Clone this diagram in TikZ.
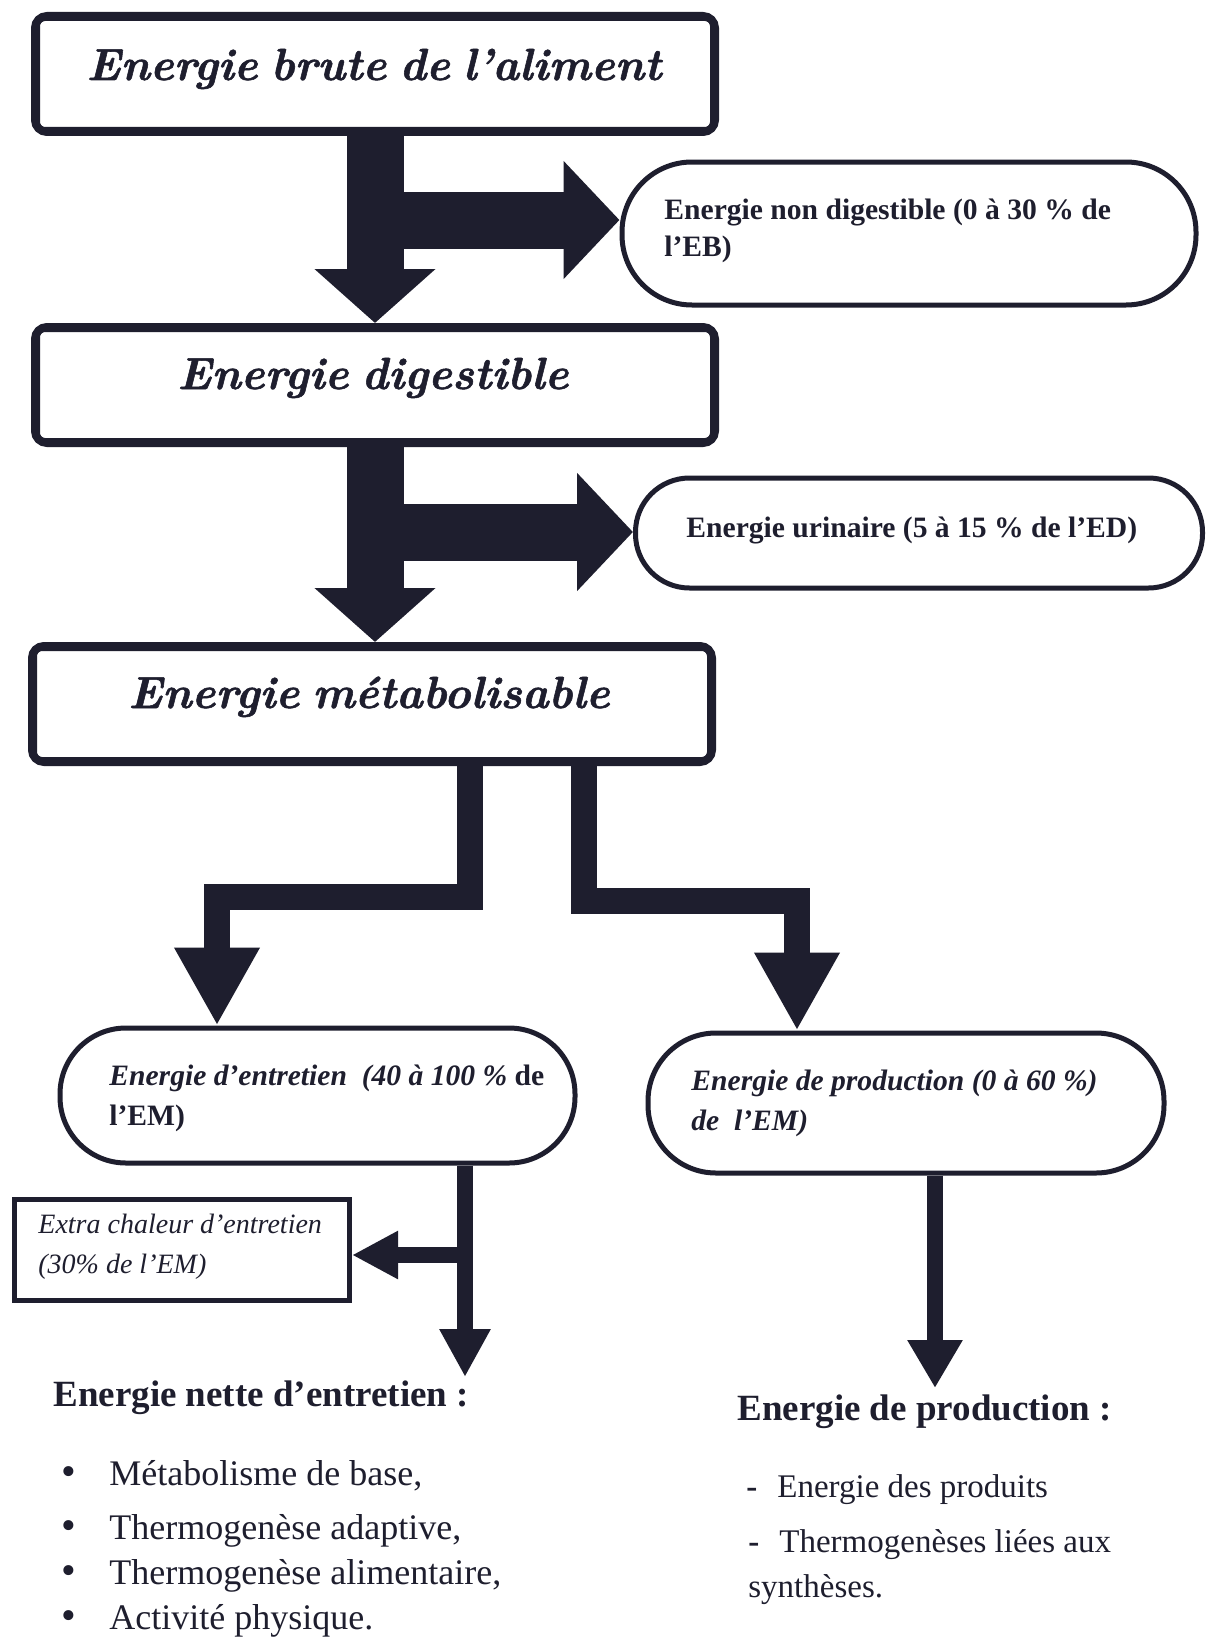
\documentclass[tikz,border=0pt]{standalone}
\usepackage{fontspec}
\newfontfamily\gara{Liberation Serif}
\newfontfamily\hfont{Latin Modern Roman}[WordSpace=0.7,BoldItalicFeatures={FakeBold=1.2}]
\usetikzlibrary{arrows.meta,calc}
\definecolor{ink}{RGB}{30,30,46}
\begin{document}
\begin{tikzpicture}[x=0.5pt,y=-0.5pt,
 hbox/.style={draw=ink,line width=4pt,rounded corners=6pt,fill=white,minimum width=340pt,minimum height=58pt,inner sep=0pt},
 htext/.style={text=ink,inner sep=0pt,anchor=base,font=\hfont\fontsize{22.5}{26}\selectfont\bfseries\itshape},
 stad/.style={draw=ink,line width=2.5pt,fill=white,inner sep=0pt},
 stext/.style={text=ink,inner sep=0pt,anchor=base west,font=\gara\fontsize{14.8}{17}\selectfont\bfseries},
 xtext/.style={text=ink,inner sep=0pt,anchor=base west,font=\gara\fontsize{14}{17}\selectfont\itshape},
 bigarrow/.style={draw=ink,line width=28.5pt,-{Triangle[width=59pt,length=27pt]}},
 sidearrow/.style={draw=ink,line width=28.5pt,-{Triangle[width=57.5pt,length=28pt]}},
 midarrow/.style={draw=ink,line width=13pt,line join=miter,-{Triangle[width=40pt,length=39pt]}},
 smallarrow/.style={draw=ink,line width=8pt,-{Triangle[width=24pt,length=24pt]}},
 body/.style={text=ink,inner sep=0pt,anchor=base west,font=\gara\fontsize{18}{21}\selectfont},
 bul/.style={text=ink,inner sep=0pt,anchor=base west,font=\gara\fontsize{21}{24}\selectfont},
 rbody/.style={text=ink,inner sep=0pt,anchor=base west,font=\gara\fontsize{16.5}{19}\selectfont},
 bodyhead/.style={text=ink,inner sep=0pt,anchor=base west,font=\gara\fontsize{18.5}{21}\selectfont\bfseries},
]
\fill[white] (0,0) rectangle (1208,1643);
\useasboundingbox (0,0) rectangle (1208,1643);

% header boxes
\node[hbox] (b1) at (375,74) {};
\node[hbox] (b2) at (375,385) {};
\node[hbox] (b3) at (372,704) {};
\foreach \b in {b1,b2,b3}
  \draw[ink,line width=1pt,rounded corners=3pt] ($(\b.north west)+(4pt,-4pt)$) rectangle ($(\b.south east)+(-4pt,4pt)$);
\node[htext] (t1) at (374,80) {Energie brute de l’aliment};
\node[htext] (t2) at (373,389) {Energie digestible};
\node[htext] (t3) at (369,708) {Energie métabolisable};

% side ovals
\node[stad,minimum width=287pt,minimum height=71.5pt,rounded corners=35pt] (e1) at (909,233.5) {};
\node[stad,minimum width=283.5pt,minimum height=55pt,rounded corners=27pt] (e2) at (919,533) {};
\node[stext] (te1a) at (664,219) {Energie non digestible (0 à 30 \% de};
\node[stext] (te1b) at (664,256) {l’EB)};
\node[stext] (te2) at (686,537) {Energie urinaire (5 à 15 \% de l’ED)};

% lower ovals
\node[stad,minimum width=257.5pt,minimum height=67.5pt,rounded corners=33pt] (ent) at (317.5,1095.5) {};
\node[stad,minimum width=258pt,minimum height=70pt,rounded corners=34pt] (prod) at (906,1103) {};
\node[stext] (tna) at (109,1085) {\itshape Energie d’entretien\ \ (40 à 100 \%\/ \upshape de};
\node[stext] (tnb) at (109,1125) {l’EM)};
\node[stext] (tpa) at (691,1090) {\itshape Energie de production (0 à 60 \%)};
\node[stext] (tpb) at (691,1130) {\itshape de\ \ l’EM)};

% extra heat box
\node[draw=ink,line width=2.5pt,fill=white,minimum width=167.5pt,minimum height=50.5pt,inner sep=0pt] (extra) at (182,1250) {};
\node[xtext] (txa) at (38,1233) {Extra chaleur d’entretien};
\node[xtext] (txb) at (38,1273) {(30\% de l’EM)};

% arrows 1 and 2
\draw[bigarrow] (b1.south) -- (b2.north);
\coordinate (j1) at (375,220);
\draw[sidearrow] (j1) -- (j1 -| e1.west);
\draw[bigarrow] (b2.south) -- (b2.south |- b3.north);
\coordinate (j2) at (375,532);
\draw[sidearrow] (j2) -- (j2 -| e2.west);

% arrows from box 3
\coordinate (l1) at (470,897);
\coordinate (l2) at (217,897);
\draw[midarrow] (b3.south -| l1) -- (l1) -- (l2) -- (l2 |- ent.north);
\coordinate (r1c) at (584,901);
\coordinate (r2c) at (797,901);
\draw[midarrow] (b3.south -| r1c) -- (r1c) -- (r2c) -- (r2c |- prod.north);

% lower arrows
\coordinate (d1) at (465,1377);
\draw[smallarrow] (ent.south -| d1) -- (d1);
\coordinate (x1) at (465,1255);
\draw[smallarrow,-{Triangle[width=22.5pt,length=23pt]}] (x1) -- (x1 -| extra.east);
\coordinate (d2) at (935,1388);
\draw[smallarrow,-{Triangle[width=26pt,length=24pt]}] (prod.south -| d2) -- (d2);

% bottom texts
\node[bodyhead] (h1) at (53,1406) {Energie nette d’entretien :};
\node[bul] (u1) at (61,1485) {•};
\node[bul] (u2) at (61,1539) {•};
\node[bul] (u3) at (61,1584) {•};
\node[bul] (u4) at (61,1629) {•};
\node[body] (i1) at (109,1485) {Métabolisme de base,};
\node[body] (i2) at (109,1539) {Thermogenèse adaptive,};
\node[body] (i3) at (109,1584) {Thermogenèse alimentaire,};
\node[body] (i4) at (109,1629) {Activité physique.};

\node[bodyhead] (h2) at (737,1420) {Energie de production :};
\node[rbody] (p1) at (746,1497) {\textbf{-}\hspace{10pt}Energie des produits};
\node[rbody] (p2) at (748,1552) {\textbf{-}\hspace{10pt}Thermogenèses liées aux};
\node[rbody] (p3) at (748,1597) {synthèses.};
\end{tikzpicture}
\end{document}
